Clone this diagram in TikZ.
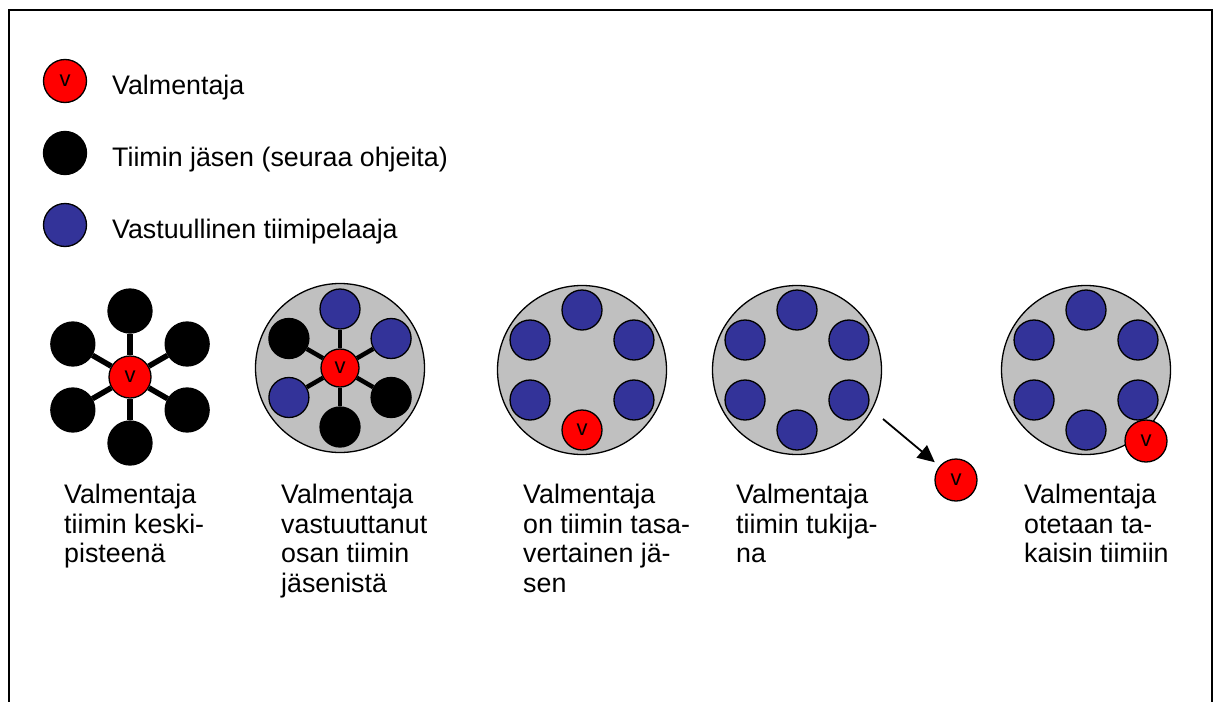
\documentclass[tikz,border=0pt]{standalone}
\usepackage{fontspec}
\setmainfont{Liberation Sans}
\usepackage{xcolor}
\usepackage{tikz}
\usetikzlibrary{arrows.meta,positioning,calc}

\definecolor{vred}{RGB}{255,0,0}
\definecolor{vblue}{RGB}{51,51,153}
\definecolor{tgray}{RGB}{192,192,192}

\begin{document}
\begin{tikzpicture}[
  x=1pt, y=-1pt,
  coach/.style={circle, draw, line width=1.3pt, fill=vred, minimum size=42pt,
    inner sep=0pt, font=\fontsize{22}{22}\selectfont},
  member/.style={circle, draw, line width=1.3pt, fill=black, minimum size=40pt, inner sep=0pt},
  player/.style={circle, draw, line width=1.3pt, fill=vblue, minimum size=40pt, inner sep=0pt},
  team/.style={circle, draw, line width=1.3pt, fill=tgray, minimum size=169pt, inner sep=0pt},
  key/.style={anchor=base west, inner sep=0pt, font=\fontsize{26.8}{29.5}\selectfont},
  caption/.style={anchor=north west, inner sep=0pt, align=left,
    font=\fontsize{26.8}{29.5}\selectfont},
  spoke/.style={line width=5.5pt},
  frame/.style={line width=2pt},
  flow/.style={-{Triangle[length=17pt,width=16pt]}, line width=1.8pt, shorten >=6pt},
]
  \useasboundingbox (0,0) rectangle (1217,701);
  \draw[frame] (9,705) |- (1212,10) -- (1212,705);

  % legend
  \node[coach, minimum size=43pt] (kv) at (65,81) {v};
  \node[member, minimum size=43pt] (km) at (65,153) {};
  \node[player, minimum size=43pt] (kp) at (65,225) {};
  \node[key] (kvt) at (112,94) {Valmentaja};
  \node[key] (kmt) at (112,166) {Tiimin jäsen (seuraa ohjeita)};
  \node[key] (kpt) at (112,238) {Vastuullinen tiimipelaaja};

  % 1: coach in the middle
  \node[coach] (v1) at (130,377) {v};
  \foreach \a in {30,90,...,330} {
    \node[member, minimum size=44pt] (m1-\a) at ([shift={(\a:66pt)}]v1) {};
    \draw[spoke] (v1) -- (m1-\a);
  }

  % 2: part of the team responsible
  \node[team] (t2) at (340,368) {};
  \node[coach, minimum size=38pt] (v2) at (340,368) {v};
  \foreach \a/\kind in {90/player,30/player,150/member,210/player,330/member,270/member} {
    \node[\kind] (m2-\a) at ([shift={(\a:59pt)}]v2) {};
    \draw[spoke, line width=4.5pt] (v2) -- (m2-\a);
  }

  % 3: coach as an equal member
  \node[team] (t3) at (582,370) {};
  \foreach \a in {30,90,150,210,330}
    \node[player] (m3-\a) at ([shift={(\a:60pt)}]t3) {};
  \node[coach, minimum size=40pt] (v3) at ([shift={(270:60pt)}]t3) {v};

  % 4: coach outside, supporting
  \node[team] (t4) at (797,370) {};
  \foreach \a in {30,90,...,330}
    \node[player] (m4-\a) at ([shift={(\a:60pt)}]t4) {};
  \node[coach] (v4) at (956,480) {v};
  \coordinate (lift) at (883,419);
  \draw[flow] (lift) -- (v4);

  % 5: coach taken back in
  \node[team] (t5) at (1086,370) {};
  \foreach \a in {30,90,...,330}
    \node[player] (m5-\a) at ([shift={(\a:60pt)}]t5) {};
  \node[coach] (v5) at (1146,441) {v};

  % captions
  \node[caption] (c1) at (64,484) {Valmentaja\\tiimin keski-\\pisteenä};
  \node[caption] (c2) at (281,484) {Valmentaja\\vastuuttanut\\osan tiimin\\jäsenistä};
  \node[caption] (c3) at (523,484) {Valmentaja\\on tiimin tasa-\\vertainen jä-\\sen};
  \node[caption] (c4) at (736,484) {Valmentaja\\tiimin tukija-\\na};
  \node[caption] (c5) at (1024,484) {Valmentaja\\otetaan ta-\\kaisin tiimiin};
\end{tikzpicture}
\end{document}
